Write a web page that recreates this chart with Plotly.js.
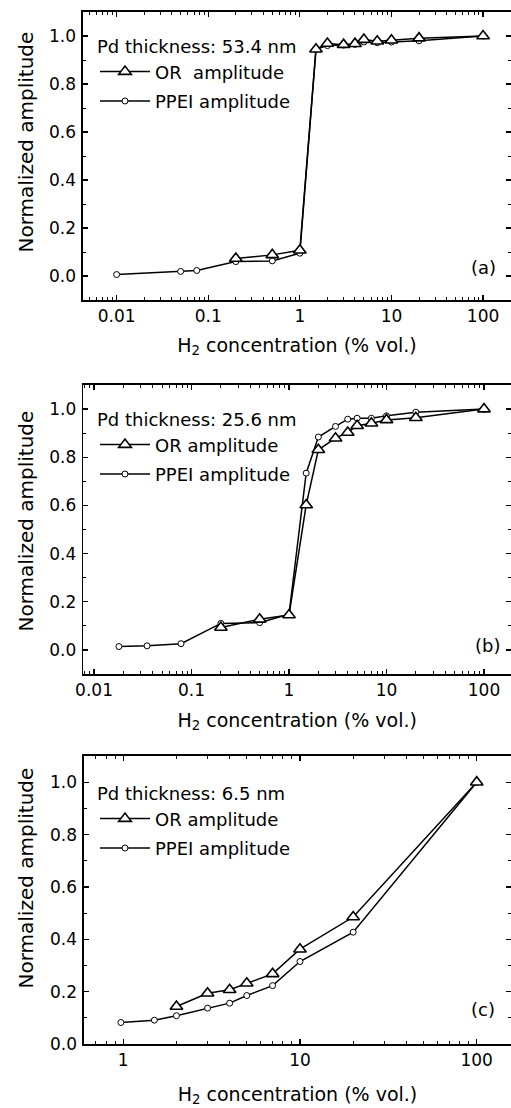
<!DOCTYPE html>
<html>
<head>
<meta charset="utf-8">
<script src="https://cdn.plot.ly/plotly-3.0.1.min.js"></script>
<style>html,body{margin:0;padding:0;background:#fff;overflow:hidden;}#chart{width:511px;height:1108px;}</style>
</head>
<body>
<div id="chart"></div>
<script>
// ---- Data ----
// Panel (a): Pd thickness 53.4 nm
const concA_OR   = [0.2, 0.5, 1, 1.5, 2, 3, 4, 5, 7, 10, 20, 100];
const ampA_OR    = [0.073, 0.088, 0.107, 0.945, 0.969, 0.964, 0.968, 0.985, 0.978, 0.982, 0.991, 1.0];
const concA_PPEI = [0.01, 0.05, 0.075, 0.2, 0.5, 1, 1.5, 2, 3, 4, 5, 7, 10, 20, 100];
const ampA_PPEI  = [0.006, 0.019, 0.023, 0.06, 0.063, 0.095, 0.945, 0.96, 0.962, 0.965, 0.975, 0.972, 0.975, 0.98, 1.0];

// Panel (b): Pd thickness 25.6 nm
const concB_OR   = [0.2, 0.5, 1, 1.5, 2, 3, 4, 5, 7, 10, 20, 100];
const ampB_OR    = [0.093, 0.127, 0.145, 0.602, 0.831, 0.879, 0.903, 0.931, 0.941, 0.955, 0.964, 1.0];
const concB_PPEI = [0.018, 0.035, 0.078, 0.2, 0.5, 1, 1.5, 2, 3, 4, 5, 7, 10, 20, 100];
const ampB_PPEI  = [0.014, 0.017, 0.026, 0.11, 0.113, 0.148, 0.734, 0.884, 0.928, 0.958, 0.962, 0.962, 0.972, 0.987, 1.0];

// Panel (c): Pd thickness 6.5 nm
const concC_OR   = [2, 3, 4, 5, 7, 10, 20, 100];
const ampC_OR    = [0.143, 0.194, 0.207, 0.232, 0.268, 0.362, 0.485, 1.0];
const concC_PPEI = [0.97, 1.5, 2, 3, 4, 5, 7, 10, 20, 100];
const ampC_PPEI  = [0.082, 0.091, 0.108, 0.137, 0.156, 0.185, 0.223, 0.315, 0.427, 1.0];

// Labels
const thicknessLabels = ['Pd thickness: 53.4 nm', 'Pd thickness: 25.6 nm', 'Pd thickness: 6.5 nm'];
const panelLabels = ['(a)', '(b)', '(c)'];
const orNames = ['OR\u00a0 amplitude', 'OR amplitude', 'OR amplitude'];
const ppeiName = 'PPEI amplitude';
const xTickValsAB = [0.01, 0.1, 1, 10, 100];
const xTickTextAB = ['0.01', '0.1', '1', '10', '100'];
const xTickValsC = [1, 10, 100];
const xTickTextC = ['1', '10', '100'];
const xTitle = 'H<sub>2</sub> concentration (% vol.)';
const yTitle = 'Normalized amplitude';

// ---- Build ----
const FONT = 'DejaVu Sans, Arial, sans-serif';
const W = 511, H = 1108;

function orTrace(x, y, name, ax, lg) {
  return {x: x, y: y, name: name, type: 'scatter', mode: 'lines+markers',
    xaxis: 'x' + ax, yaxis: 'y' + ax, legend: lg, legendrank: 1, legendgroup: lg + 'or',
    line: {color: 'black', width: 1.5},
    marker: {symbol: 'triangle-up', size: 11, color: 'white', line: {color: 'black', width: 1.6}}};
}
function ppeiTrace(x, y, name, ax, lg) {
  return {x: x, y: y, name: name, type: 'scatter', mode: 'lines+markers',
    xaxis: 'x' + ax, yaxis: 'y' + ax, legend: lg, legendrank: 2, legendgroup: lg + 'pp',
    line: {color: 'black', width: 1.5},
    marker: {symbol: 'circle', size: 6, color: 'white', line: {color: 'black', width: 1}}};
}

const traces = [
  ppeiTrace(concA_PPEI, ampA_PPEI, ppeiName, '', 'legend'),
  orTrace(concA_OR, ampA_OR, orNames[0], '', 'legend'),
  ppeiTrace(concB_PPEI, ampB_PPEI, ppeiName, '2', 'legend2'),
  orTrace(concB_OR, ampB_OR, orNames[1], '2', 'legend2'),
  ppeiTrace(concC_PPEI, ampC_PPEI, ppeiName, '3', 'legend3'),
  orTrace(concC_OR, ampC_OR, orNames[2], '3', 'legend3')
];

function xAxis(domL, range, tv, tt, anchor, standoff) {
  return {type: 'log', domain: [domL / W, 1], range: range, anchor: anchor,
    tickvals: tv, ticktext: tt,
    showline: true, linecolor: 'black', linewidth: 1.6, mirror: 'ticks',
    ticks: 'inside', ticklen: 5, tickwidth: 1.2, tickcolor: 'black',
    minor: {ticks: 'inside', ticklen: 3, tickwidth: 1, tickcolor: 'black', dtick: 'D1', showgrid: false},
    showgrid: false, zeroline: false, automargin: false,
    tickfont: {family: FONT, size: 17, color: 'black'}, ticklabelstandoff: 0,
    title: {text: xTitle, font: {family: FONT, size: 19, color: 'black'}, standoff: standoff}};
}
function yAxis(top, bottom, range, anchor) {
  return {domain: [1 - bottom / H, 1 - top / H], range: range, anchor: anchor,
    tick0: 0, dtick: 0.2, tickformat: '.1f',
    showline: true, linecolor: 'black', linewidth: 1.6, mirror: 'ticks',
    ticks: 'inside', ticklen: 5, tickwidth: 1.2, tickcolor: 'black',
    minor: {ticks: 'inside', ticklen: 3, tickwidth: 1, tickcolor: 'black', dtick: 0.1, showgrid: false},
    showgrid: false, zeroline: false, automargin: false,
    tickfont: {family: FONT, size: 17, color: 'black'}, ticklabelstandoff: 2};
}
function legendCfg(x, yTop, title) {
  return {x: x / W, y: 1 - yTop / H, xanchor: 'left', yanchor: 'top',
    bgcolor: 'rgba(0,0,0,0)', borderwidth: 0, tracegroupgap: 3, itemwidth: 50,
    font: {family: FONT, size: 18, color: 'black'},
    title: {text: title, font: {family: FONT, size: 18, color: 'black'}}};
}
function yTitleAnn(cy) {
  return {xref: 'paper', yref: 'paper', x: 25 / W, y: 1 - cy / H, xanchor: 'center', yanchor: 'middle',
    text: yTitle, textangle: -90, showarrow: false, font: {family: FONT, size: 20, color: 'black'}};
}

const layout = {
  width: W, height: H,
  margin: {l: 0, r: 0, t: 0, b: 0},
  paper_bgcolor: 'white', plot_bgcolor: 'white',
  showlegend: true,
  xaxis: xAxis(83, [-2.367, 2.305], xTickValsAB, xTickTextAB, 'y', 13),
  yaxis: yAxis(12, 300, [-0.1, 1.1], 'x'),
  xaxis2: xAxis(83.3, [-2.11, 2.277], xTickValsAB, xTickTextAB, 'y2', 14),
  yaxis2: yAxis(385, 674, [-0.1, 1.1], 'x2'),
  xaxis3: xAxis(84, [-0.222, 2.194], xTickValsC, xTickTextC, 'y3', 18),
  yaxis3: yAxis(756, 1044, [0, 1.1], 'x3'),
  legend: legendCfg(95, 30, thicknessLabels[0]),
  legend2: legendCfg(95, 403, thicknessLabels[1]),
  legend3: legendCfg(95, 777, thicknessLabels[2]),
  annotations: [
    yTitleAnn(142.5), yTitleAnn(521.5), yTitleAnn(878.5),
    {xref: 'x', yref: 'y', x: 2, y: 0.035, text: panelLabels[0], showarrow: false, font: {family: FONT, size: 18, color: 'black'}},
    {xref: 'x2', yref: 'y2', x: 2.04, y: 0.02, text: panelLabels[1], showarrow: false, font: {family: FONT, size: 18, color: 'black'}},
    {xref: 'x3', yref: 'y3', x: 2.036, y: 0.133, text: panelLabels[2], showarrow: false, font: {family: FONT, size: 18, color: 'black'}}
  ]
};

Plotly.newPlot('chart', traces, layout, {displayModeBar: false, staticPlot: true});
</script>
</body>
</html>
